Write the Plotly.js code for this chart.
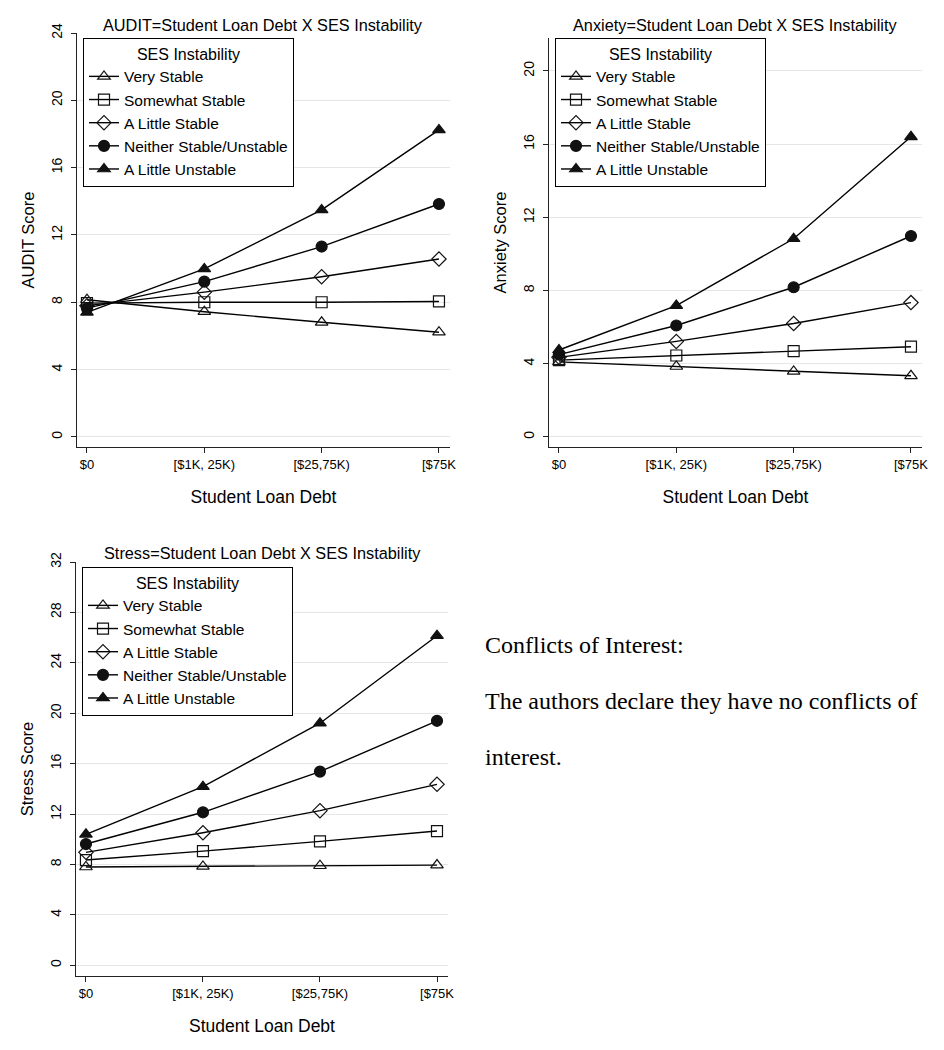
<!DOCTYPE html>
<html>
<head>
<meta charset="utf-8">
<script src="https://cdn.plot.ly/plotly-3.0.1.min.js"></script>
<style>
  body { margin: 0; background: #fff; }
  #graphs-div { width: 944px; height: 1050px; }
</style>
</head>
<body>
<div id="graphs-div"></div>
<script>
// CATEGORIES ON THE X AXIS AND THE SES GROUPS
const debtLabels = ['$0', '[$1K, 25K)', '[$25,75K)', '[$75K'];
const debtIndex = [0, 1, 2, 3];
const sesGroups = ['Very Stable', 'Somewhat Stable', 'A Little Stable', 'Neither Stable/Unstable', 'A Little Unstable'];

// AUDIT SCORES
const auditVeryStable = [8.15, 7.44, 6.81, 6.22];
const auditSomewhatStable = [7.95, 8.0, 8.0, 8.05];
const auditLittleStable = [7.8, 8.6, 9.52, 10.57];
const auditNeither = [7.65, 9.23, 11.31, 13.84];
const auditLittleUnstable = [7.4, 9.98, 13.49, 18.24];

// ANXIETY SCORES
const anxietyVeryStable = [4.1, 3.85, 3.58, 3.34];
const anxietySomewhatStable = [4.2, 4.45, 4.69, 4.93];
const anxietyLittleStable = [4.35, 5.22, 6.2, 7.34];
const anxietyNeither = [4.5, 6.09, 8.18, 10.98];
const anxietyLittleUnstable = [4.75, 7.18, 10.83, 16.4];

// STRESS SCORES
const stressVeryStable = [7.8, 7.85, 7.9, 7.95];
const stressSomewhatStable = [8.35, 9.06, 9.83, 10.65];
const stressLittleStable = [8.96, 10.52, 12.27, 14.36];
const stressNeither = [9.62, 12.14, 15.37, 19.4];
const stressLittleUnstable = [10.39, 14.17, 19.21, 26.15];

const markerSymbols = ['triangle-up-open', 'square-open', 'diamond-open', 'circle', 'triangle-up'];

// FUNCTION TO BUILD THE FIVE LINES OF ONE PANEL
function panelTraces(series, xaxis, yaxis, legend) {
    let traces = [];
    for (let i = 0; i < series.length; i++) {
        traces.push({
            x: debtIndex,
            y: series[i],
            xaxis: xaxis,
            yaxis: yaxis,
            legend: legend,
            name: sesGroups[i],
            mode: 'lines+markers',
            type: 'scatter',
            line: { color: '#000', width: 1.4 },
            marker: {
                symbol: markerSymbols[i],
                size: 11,
                color: '#111',
                line: { color: '#111', width: 1.2 }
            },
            hoverinfo: 'x+y+name'
        });
    }
    return traces;
}

const data = []
    .concat(panelTraces([auditVeryStable, auditSomewhatStable, auditLittleStable, auditNeither, auditLittleUnstable], 'x', 'y', 'legend'))
    .concat(panelTraces([anxietyVeryStable, anxietySomewhatStable, anxietyLittleStable, anxietyNeither, anxietyLittleUnstable], 'x2', 'y2', 'legend2'))
    .concat(panelTraces([stressVeryStable, stressSomewhatStable, stressLittleStable, stressNeither, stressLittleUnstable], 'x3', 'y3', 'legend3'));

const W = 944, H = 1050;
const sansFont = 'Liberation Sans, Arial, sans-serif';

function xAxis(left, right, anchor) {
    return {
        domain: [left / W, right / W],
        range: [-0.085, 3.094],
        anchor: anchor,
        tickvals: debtIndex,
        ticktext: debtLabels,
        ticks: 'outside',
        ticklen: 5,
        tickcolor: '#222',
        showline: true,
        linecolor: '#222',
        linewidth: 1.3,
        showgrid: false,
        zeroline: false,
        tickfont: { family: sansFont, size: 13, color: '#000' },
        title: { text: 'Student Loan Debt', font: { family: sansFont, size: 17.5, color: '#000' }, standoff: 19 },
        fixedrange: true
    };
}

function yAxis(top, bottom, range, dtick, label, anchor) {
    return {
        domain: [1 - bottom / H, 1 - top / H],
        range: range,
        dtick: dtick,
        tick0: 0,
        tickangle: -90,
        ticks: 'outside',
        ticklen: 5,
        tickcolor: '#222',
        ticklabelstandoff: 3,
        showline: true,
        linecolor: '#222',
        linewidth: 1.3,
        showgrid: true,
        gridcolor: '#e6e6e6',
        gridwidth: 1,
        zeroline: false,
        anchor: anchor,
        tickfont: { family: sansFont, size: 14, color: '#000' },
        title: { text: label, font: { family: sansFont, size: 16.5, color: '#000' }, standoff: 10 },
        fixedrange: true
    };
}

function legendBox(left, top) {
    return {
        x: left / W,
        y: 1 - top / H,
        xanchor: 'left',
        yanchor: 'top',
        bgcolor: '#fff',
        bordercolor: '#000',
        borderwidth: 1,
        font: { family: sansFont, size: 15.5, color: '#000' },
        title: { text: 'SES Instability', side: 'top center', font: { family: sansFont, size: 16, color: '#000' } },
        tracegroupgap: 0
    };
}

function panelTitle(text, cx, cy) {
    return {
        text: text,
        xref: 'paper', yref: 'paper',
        x: cx / W, y: 1 - cy / H,
        xanchor: 'center', yanchor: 'middle',
        showarrow: false,
        font: { family: sansFont, size: 16.3, color: '#000' }
    };
}

function noteLine(text, cy) {
    return {
        text: text,
        xref: 'paper', yref: 'paper',
        x: 483 / W, y: 1 - cy / H,
        xanchor: 'left', yanchor: 'middle',
        showarrow: false,
        font: { family: 'Liberation Serif, Times New Roman, serif', size: 24, color: '#000' }
    };
}

const layout = {
    width: W,
    height: H,
    margin: { l: 0, r: 0, t: 0, b: 0 },
    paper_bgcolor: '#fff',
    plot_bgcolor: '#fff',
    showlegend: true,
    xaxis: xAxis(77, 450, 'y'),
    yaxis: yAxis(33, 447, [-0.6, 24.0], 4, 'AUDIT Score', 'x'),
    xaxis2: xAxis(549, 922, 'y2'),
    yaxis2: yAxis(38, 447, [-0.55, 21.8], 4, 'Anxiety Score', 'x2'),
    xaxis3: xAxis(76, 448, 'y3'),
    yaxis3: yAxis(562, 976, [-0.85, 32.0], 4, 'Stress Score', 'x3'),
    legend: legendBox(83, 38),
    legend2: legendBox(555, 38),
    legend3: legendBox(82, 567),
    annotations: [
        panelTitle('AUDIT=Student Loan Debt X SES Instability', 263, 25),
        panelTitle('Anxiety=Student Loan Debt X SES Instability', 735, 25),
        panelTitle('Stress=Student Loan Debt X SES Instability', 262, 553),
        noteLine('Conflicts of Interest:', 645),
        noteLine('The authors declare they have no conflicts of', 701),
        noteLine('interest.', 757)
    ]
};

Plotly.newPlot('graphs-div', data, layout, { displayModeBar: false, staticPlot: true });
</script>
</body>
</html>
